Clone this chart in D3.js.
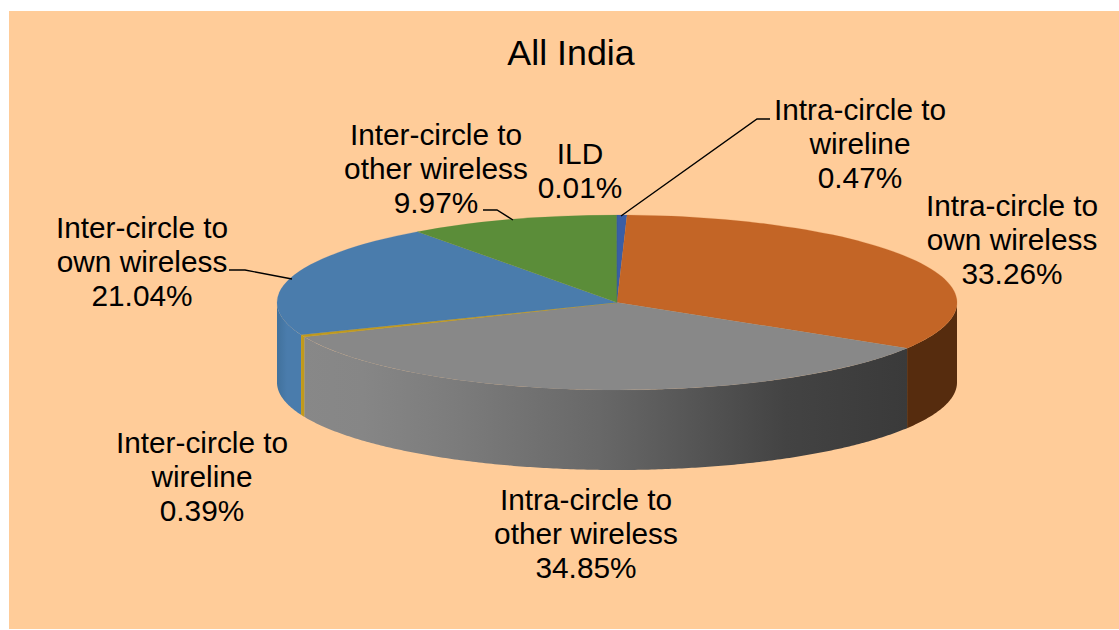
<!DOCTYPE html>
<html><head><meta charset="utf-8">
<script src="https://cdn.jsdelivr.net/npm/d3@7"></script>
<style>html,body{margin:0;padding:0;background:#fff}svg{display:block}text{font-family:"Liberation Sans",Arial,sans-serif;fill:#000}</style>
</head><body><svg id="c" width="1119" height="630"></svg>
<script>
const title = "All India";
const categories = ["Intra-circle to wireline","Intra-circle to own wireless","Intra-circle to other wireless","Inter-circle to wireline","Inter-circle to own wireless","Inter-circle to other wireless","ILD"];
const values = [0.47,33.26,34.85,0.39,21.04,9.97,0.01];
const labelLines = [["Intra-circle to","wireline","0.47%"],["Intra-circle to","own wireless","33.26%"],["Intra-circle to","other wireless","34.85%"],["Inter-circle to","wireline","0.39%"],["Inter-circle to","own wireless","21.04%"],["Inter-circle to","other wireless","9.97%"],["ILD","0.01%"]];

const topColors = ["#3A5EA6","#C36526","#888888","#C09A1C","#4A7CAC","#5B8D39","#2F5597"];
const labelPos = [[860,119.5],[1012,216],[586,510],[202,452.5],[142,238],[436,144.5],[580,163.5]];
const leaders = {0:[[621,216],[757,119],[770,119]],4:[[229,270],[245,270],[292,279]],5:[[483,210],[497,210],[513,220]]};

const W=1119,H=630,cx=617,cy=302.5,rx=340,ry=87.5,depth=80;
const svg=d3.select("#c");
svg.append("rect").attr("x",9).attr("y",11).attr("width",W-9).attr("height",618).attr("fill","#FFCC99");

const defs=svg.append("defs");
const g1=defs.append("linearGradient").attr("id","wallGrey").attr("gradientUnits","userSpaceOnUse").attr("x1",302).attr("x2",907).attr("y1",0).attr("y2",0);
[[0,"#888888"],[0.1,"#868686"],[0.25,"#7C7C7C"],[0.49,"#686868"],[0.8,"#434343"],[1,"#3A3A3A"]].forEach(s=>g1.append("stop").attr("offset",s[0]).attr("stop-color",s[1]));
const g2=defs.append("linearGradient").attr("id","wallBlue").attr("gradientUnits","userSpaceOnUse").attr("x1",277).attr("x2",302).attr("y1",0).attr("y2",0);
[[0,"#41719C"],[0.4,"#4A7CAC"],[1,"#4A7CAC"]].forEach(s=>g2.append("stop").attr("offset",s[0]).attr("stop-color",s[1]));

const wallFill=["#2F4D8C","#562C0E","url(#wallGrey)","#C09A1C","url(#wallBlue)","#3F6A28","#2F5597"];

const pie=d3.pie().sort(null).value(d=>d)(values);
// angle 0 = top, clockwise, projected on an ellipse
const px=a=>cx+rx*Math.sin(a), py=a=>cy-ry*Math.cos(a);
const line=d3.line().x(d=>d[0]).y(d=>d[1]);
const arcPts=(a0,a1,dy)=>{const n=Math.max(2,Math.ceil((a1-a0)/0.01));return d3.range(n+1).map(i=>{const a=a0+(a1-a0)*i/n;return [px(a),py(a)+dy];});};

// side walls: only the part of each slice facing the viewer
const wallG=svg.append("g");
[1,2,4,3].forEach(i=>{
  const d=pie[i];
  const a0=Math.max(d.startAngle,Math.PI/2),a1=Math.min(d.endAngle,Math.PI*1.5);
  if(a1<=a0)return;
  const pts=arcPts(a0,a1,0).concat(arcPts(a0,a1,depth).reverse());
  wallG.append("path").attr("d",line(pts)+"Z").attr("fill",wallFill[i]);
});
// top face
const arc=d3.arc().innerRadius(0).outerRadius(rx);
const topG=svg.append("g").attr("transform",`translate(${cx},${cy}) scale(1,${ry/rx})`);
topG.selectAll("path").data(pie).join("path").attr("d",arc).attr("fill",(d,i)=>topColors[i]).attr("stroke",(d,i)=>topColors[i]).attr("stroke-width",(d,i)=>i===3?0.8:0.3);

// leaders
Object.entries(leaders).forEach(([k,p])=>svg.append("path").attr("d",line(p)).attr("fill","none").attr("stroke","#000").attr("stroke-width",1.4));

// labels
svg.append("text").attr("x",571).attr("y",65).attr("text-anchor","middle").attr("font-size",35.8).text(title);
labelLines.forEach((ls,i)=>{
  const t=svg.append("text").attr("text-anchor","middle").attr("font-size",29.8);
  ls.forEach((s,j)=>t.append("tspan").attr("x",labelPos[i][0]).attr("y",labelPos[i][1]+j*34.2).text(s));
});
</script></body></html>
